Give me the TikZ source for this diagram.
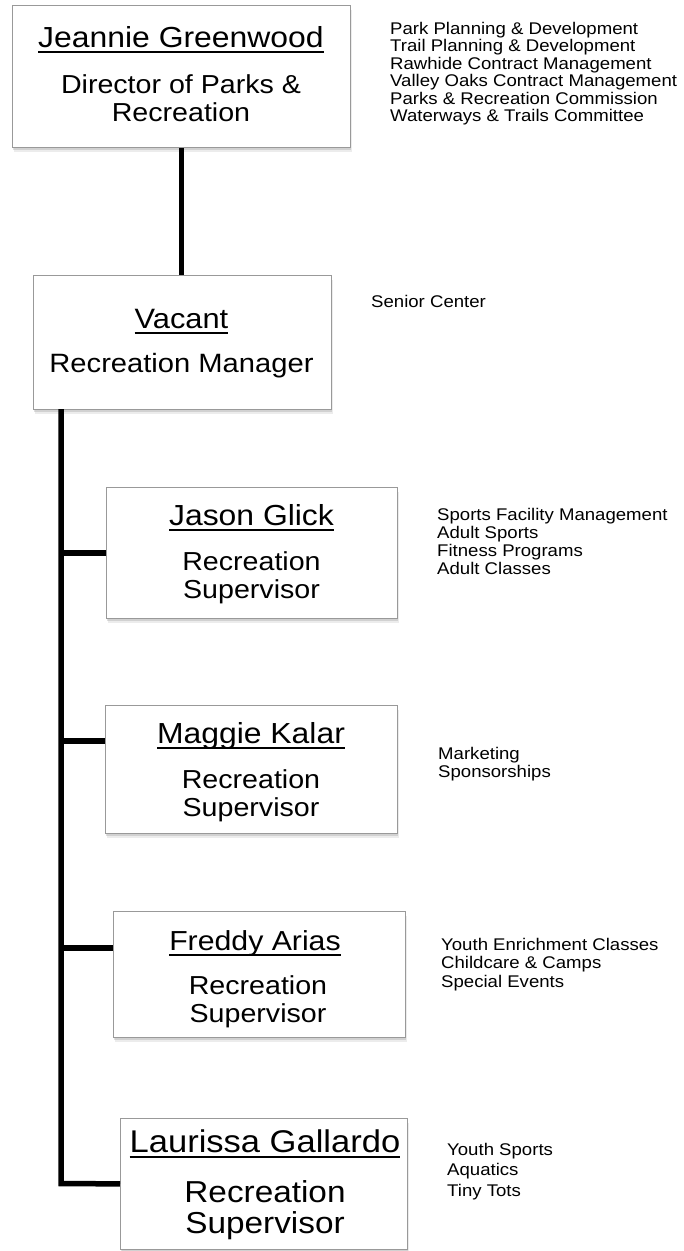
\documentclass[tikz,border=0pt]{standalone}
\usepackage{fontspec}
\setmainfont[FakeStretch=1.1]{Liberation Sans}
\usetikzlibrary{shadows}

% underline at a fixed depth below the baseline
\newcommand{\uname}[1]{\setbox0\hbox{#1}\rlap{\rule[-6pt]{\wd0}{1.9pt}}\box0}
% stacked lines whose baseline is the first line's
\newcommand{\lines}[2]{\vtop{\baselineskip=#1\lineskiplimit=-20pt\relax #2}}
\newcommand{\fs}[1]{\fontsize{#1}{#1}\selectfont}

\tikzset{
  orgbox/.style={draw=black!40, line width=0.8pt, fill=white, inner sep=0pt,
    anchor=north west,
    drop shadow={shadow xshift=2pt, shadow yshift=-5pt, opacity=0.15},
    drop shadow={shadow xshift=1pt, shadow yshift=-3pt, opacity=0.25}},
  link/.style={line width=5.5pt, line join=miter},
  txt/.style={inner sep=0pt, anchor=base},
  namet/.style={txt, font=\fs{29}},
  rolet/.style={txt, font=\fs{26}},
  sidet/.style={inner sep=0pt, anchor=base west, font=\fs{16.9}},
}

\begin{document}
\begin{tikzpicture}[x=1pt, y=-1pt]
\useasboundingbox (0,0) rectangle (684,1251);

% boxes
\node[orgbox, minimum width=338pt, minimum height=142pt] (jg) at (12,5) {};
\node[orgbox, minimum width=298pt, minimum height=134pt] (vac) at (33,275) {};
\node[orgbox, minimum width=291pt, minimum height=131pt] (jason) at (106,487) {};
\node[orgbox, minimum width=292pt, minimum height=128pt] (maggie) at (105,705) {};
\node[orgbox, minimum width=292pt, minimum height=126pt] (freddy) at (113,911) {};
\node[orgbox, minimum width=287pt, minimum height=131pt] (laurissa) at (120,1118) {};

% box texts
\node[namet] (jgname) at (181,47) {\uname{Jeannie Greenwood}};
\node[rolet] (jgrole) at (181,93) {Director of Parks \&};
\node[rolet] (jgrole2) at (181,121) {Recreation};

\node[txt, font=\fs{28}] (vacname) at (181.5,328) {\uname{Vacant}};
\node[txt, font=\fs{26.5}] (vacrole) at (181.5,372) {Recreation Manager};

\node[namet] (jasonname) at (251.5,525) {\uname{Jason Glick}};
\node[rolet] (jasonrole) at (251.5,570) {Recreation};
\node[rolet] (jasonrole2) at (251.5,598) {Supervisor};

\node[namet] (maggiename) at (251,743) {\uname{Maggie Kalar}};
\node[rolet] (maggierole) at (251,788) {Recreation};
\node[rolet] (maggierole2) at (251,816) {Supervisor};

\node[txt, font=\fs{27.5}] (freddyname) at (255,950) {\uname{Freddy Arias}};
\node[rolet] (freddyrole) at (258,994) {Recreation};
\node[rolet] (freddyrole2) at (258,1022) {Supervisor};

\node[txt, font=\fs{31.4}] (laurissaname) at (265,1152) {\uname{Laurissa Gallardo}};
\node[txt, font=\fs{30.3}] (laurissarole) at (265,1202) {Recreation};
\node[txt, font=\fs{30.3}] (laurissarole2) at (265,1233) {Supervisor};

% responsibilities
\node[sidet] (jglist) at (390,34) {\lines{17.5pt}{%
  \hbox{Park Planning \& Development}\hbox{Trail Planning \& Development}%
  \hbox{Rawhide Contract Management}\hbox{Valley Oaks Contract Management}%
  \hbox{Parks \& Recreation Commission}\hbox{Waterways \& Trails Committee}}};
\node[sidet] (vaclist) at (371,307) {Senior Center};
\node[sidet] (jasonlist) at (437,520) {\lines{18.3pt}{%
  \hbox{Sports Facility Management}\hbox{Adult Sports}%
  \hbox{Fitness Programs}\hbox{Adult Classes}}};
\node[sidet] (maggielist) at (438,759) {\lines{18.3pt}{%
  \hbox{Marketing}\hbox{Sponsorships}}};
\node[sidet] (freddylist) at (441,950) {\lines{18.5pt}{%
  \hbox{Youth Enrichment Classes}\hbox{Childcare \& Camps}\hbox{Special Events}}};
\node[sidet] (laurissalist) at (447,1155) {\lines{20.5pt}{%
  \hbox{Youth Sports}\hbox{Aquatics}\hbox{Tiny Tots}}};

% connectors
\coordinate (trunktop) at (61,409);
\coordinate (corner) at (61,1183.5);
\coordinate (mjoin) at (105,741);
\coordinate (fjoin) at (113,948);
\draw[link] (jg.south) -- (jg.south |- vac.north);
\draw[link] (trunktop) -- (corner) -- (laurissa.west);
\draw[link] (jason.west) -- (jason.west -| trunktop);
\draw[link] (mjoin) -- (mjoin -| trunktop);
\draw[link] (fjoin) -- (fjoin -| trunktop);
\end{tikzpicture}
\end{document}
